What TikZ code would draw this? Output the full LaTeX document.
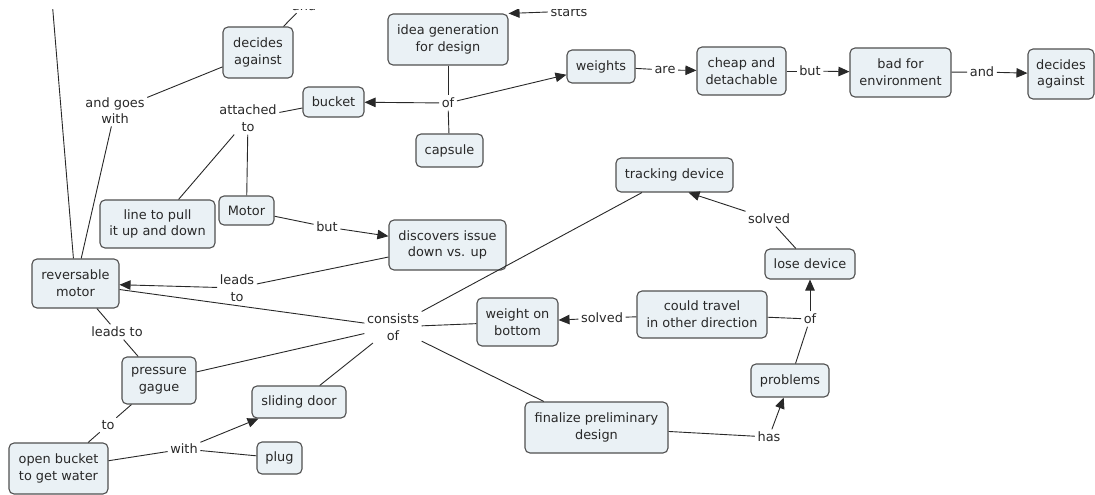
\documentclass[tikz,border=0pt]{standalone}
\usepackage{fontspec}
\setmainfont{DejaVu Sans}
\usetikzlibrary{arrows.meta}
\definecolor{boxfill}{RGB}{234,241,245}
\definecolor{boxline}{RGB}{80,80,80}
\definecolor{ink}{RGB}{40,40,40}
\begin{document}
\begin{tikzpicture}[x=1pt,y=-1pt,
  every node/.style={font=\fontsize{12.9}{16.7}\selectfont, text=ink},
  concept/.style={draw=boxline, line width=1.1pt, fill=boxfill, rounded corners=5pt, align=center, inner sep=1pt},
  lbl/.style={align=center, inner sep=2.5pt},
  link/.style={draw=ink, line width=0.9pt},
  arr/.style={link, -{Triangle[length=11pt,width=9.5pt]}}]
\useasboundingbox (0,0) rectangle (1095,495);
\clip (0,10) rectangle (1095,495);

% concepts
\node[concept, minimum width=70, minimum height=51] (decL) at (258,52.5) {decides\\against};
\node[concept, minimum width=61, minimum height=30] (bucket) at (333.5,102) {bucket};
\node[concept, minimum width=115, minimum height=48] (linepull) at (157.5,224) {line to pull\\it up and down};
\node[concept, minimum width=55, minimum height=29] (motor) at (246.5,210.5) {Motor};
\node[concept, minimum width=120, minimum height=51] (idea) at (448,39.5) {idea generation\\for design};
\node[concept, minimum width=67, minimum height=33] (capsule) at (449.5,150.5) {capsule};
\node[concept, minimum width=68, minimum height=33] (weights) at (601,66.5) {weights};
\node[concept, minimum width=89, minimum height=48] (cheap) at (741.5,71) {cheap and\\detachable};
\node[concept, minimum width=101, minimum height=49] (bad) at (900.5,72.5) {bad for\\environment};
\node[concept, minimum width=66, minimum height=50] (decR) at (1061,74) {decides\\against};
\node[concept, minimum width=87, minimum height=49] (rev) at (75.5,283.5) {reversable\\motor};
\node[concept, minimum width=74, minimum height=47] (pressure) at (159,380.5) {pressure\\gague};
\node[concept, minimum width=99, minimum height=51] (openb) at (58.5,468.5) {open bucket\\to get water};
\node[concept, minimum width=94, minimum height=32] (sliding) at (299,402) {sliding door};
\node[concept, minimum width=45, minimum height=32] (plug) at (279.5,458) {plug};
\node[concept, minimum width=117, minimum height=34] (tracking) at (674.5,175) {tracking device};
\node[concept, minimum width=90, minimum height=30] (lose) at (810,264) {lose device};
\node[concept, minimum width=130, minimum height=47] (could) at (702,314.5) {could travel\\in other direction};
\node[concept, minimum width=81, minimum height=48] (wbot) at (517.5,322) {weight on\\bottom};
\node[concept, minimum width=78, minimum height=33] (problems) at (790,380.5) {problems};
\node[concept, minimum width=143, minimum height=51] (final) at (596.5,427.5) {finalize preliminary\\design};
\node[concept, minimum width=117, minimum height=50] (disc) at (447.5,245) {discovers issue\\down vs. up};

% linking phrases
\node[lbl] (starts) at (569,12) {starts};
\node[lbl] (andTop) at (304,5.5) {and};
\node[lbl] (ofTop) at (448,103) {of};
\node[lbl] (are) at (665,70) {are};
\node[lbl] (butTop) at (810,71) {but};
\node[lbl] (andR) at (982,72) {and};
\node[lbl] (andgoes) at (115,110.5) {and goes\\with};
\node[lbl] (attached) at (248,118.5) {attached\\to};
\node[lbl] (butM) at (327,227) {but};
\node[lbl] (leadsR) at (237,288) {leads\\to};
\node[lbl] (leadsB) at (117,332) {leads to};
\node[lbl] (toL) at (108,425) {to};
\node[lbl] (with) at (184,449) {with};
\node[lbl] (consists) at (393,327) {consists\\of};
\node[lbl] (solvedT) at (769,219) {solved};
\node[lbl] (ofR) at (810,319) {of};
\node[lbl] (solvedL) at (602,318) {solved};
\node[lbl] (has) at (769,437) {has};
\coordinate (topL) at (52,0);

% connectors
\draw[arr] (starts.west) -- (idea.north east);
\draw[link] (idea) -- (ofTop);
\draw[link] (capsule) -- (ofTop);
\draw[arr] (ofTop) -- (bucket);
\draw[arr] (ofTop) -- (weights);
\draw[link] (weights) -- (are);
\draw[arr] (are) -- (cheap);
\draw[link] (cheap) -- (butTop);
\draw[arr] (butTop) -- (bad);
\draw[link] (bad) -- (andR);
\draw[arr] (andR) -- (decR);
\draw[link] (decL) -- (andTop);
\draw[link] (decL) -- (andgoes);
\draw[link] (andgoes) -- (rev);
\draw[link] (topL) -- (rev);
\draw[link] (bucket) -- (attached);
\draw[link] (attached) -- (linepull);
\draw[link] (attached) -- (motor);
\draw[link] (motor) -- (butM);
\draw[arr] (butM) -- (disc);
\draw[link] (disc) -- (leadsR);
\draw[arr] (leadsR) -- (rev);
\draw[link] (consists) -- (rev);
\draw[link] (consists) -- (pressure);
\draw[link] (consists) -- (sliding);
\draw[link] (consists) -- (wbot);
\draw[link] (consists) -- (tracking);
\draw[link] (consists) -- (final);
\draw[link] (rev) -- (leadsB);
\draw[link] (leadsB) -- (pressure);
\draw[link] (pressure) -- (toL);
\draw[link] (toL) -- (openb);
\draw[link] (openb) -- (with);
\draw[arr] (with) -- (sliding);
\draw[link] (with) -- (plug);
\draw[link] (final) -- (has);
\draw[arr] (has) -- (problems);
\draw[link] (problems) -- (ofR);
\draw[link] (could) -- (ofR);
\draw[arr] (ofR) -- (lose);
\draw[link] (could) -- (solvedL);
\draw[arr] (solvedL) -- (wbot);
\draw[link] (lose) -- (solvedT);
\draw[arr] (solvedT) -- ([xshift=14pt]tracking.south);
\end{tikzpicture}
\end{document}
